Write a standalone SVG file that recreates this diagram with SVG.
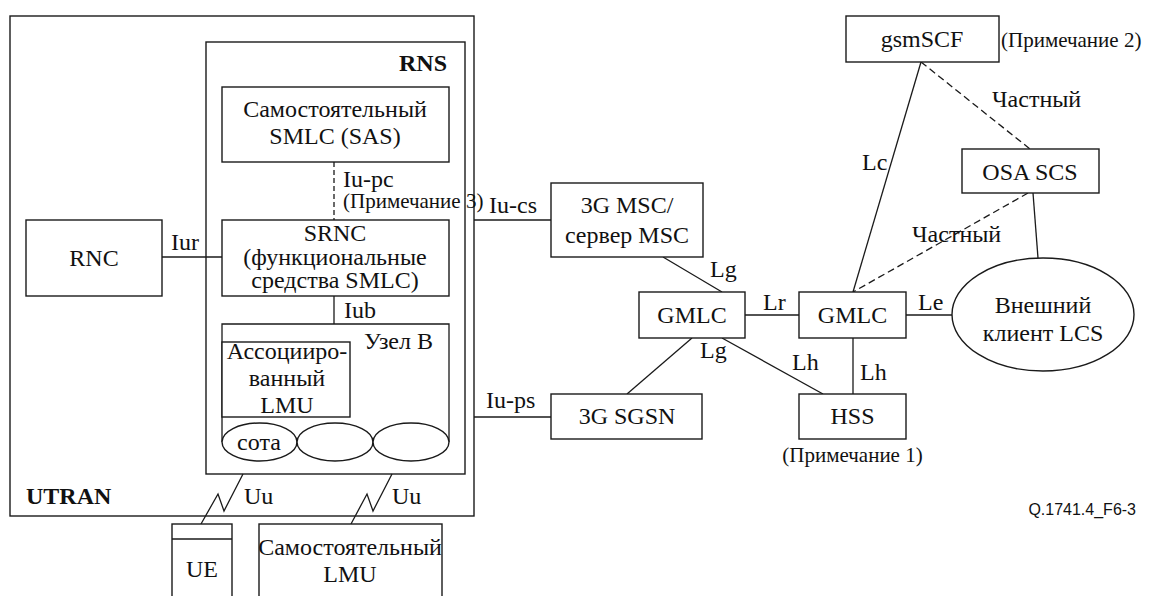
<svg xmlns="http://www.w3.org/2000/svg" width="1152" height="596" viewBox="0 0 1152 596">
  <style>
    .box { fill: #fff; stroke: #1a1a1a; stroke-width: 1.4; }
    .frame { fill: none; stroke: #1a1a1a; stroke-width: 1.4; }
    .ln { fill: none; stroke: #1a1a1a; stroke-width: 1.3; }
    .dash { fill: none; stroke: #1a1a1a; stroke-width: 1.3; stroke-dasharray: 7 4; }
    text { font-family: "Times New Roman", Times, "Liberation Serif", "DejaVu Serif", serif; font-size: 24px; fill: #111; }
    .c { text-anchor: middle; }
    .n { font-size: 21px; }
    .b { font-weight: bold; }
    text.id { font-family: "Liberation Sans", Arial, sans-serif; font-size: 16px; }
  </style>

  <rect width="1152" height="596" fill="#fff"/>

  <!-- UTRAN frame -->
  <g id="utran">
    <rect class="frame" x="10" y="16" width="464" height="500"/>
    <text class="b" x="26" y="504">UTRAN</text>
  </g>

  <!-- RNS frame -->
  <g id="rns">
    <rect class="frame" x="206" y="42" width="259" height="432"/>
    <text class="b" x="447" y="71" text-anchor="end">RNS</text>
  </g>

  <!-- connectors -->
  <g id="connectors">
    <line class="dash" x1="334" y1="162" x2="334" y2="220" style="stroke-dasharray:5 3"/>
    <line class="ln" x1="162" y1="257" x2="222" y2="257"/>
    <line class="ln" x1="334" y1="296" x2="334" y2="324"/>
    <line class="ln" x1="474" y1="220" x2="551" y2="220"/>
    <line class="ln" x1="474" y1="417" x2="551" y2="417"/>
    <line class="ln" x1="663" y1="257" x2="722" y2="292"/>
    <line class="ln" x1="745" y1="315" x2="799" y2="315"/>
    <line class="ln" x1="692" y1="338" x2="627" y2="394"/>
    <line class="ln" x1="722" y1="338" x2="823" y2="394"/>
    <line class="ln" x1="853" y1="338" x2="853" y2="394"/>
    <line class="ln" x1="921" y1="62" x2="853" y2="292"/>
    <line class="dash" x1="921" y1="62" x2="1030" y2="149"/>
    <line class="dash" x1="1028" y1="193" x2="853" y2="292"/>
    <line class="ln" x1="1033" y1="193" x2="1038" y2="258"/>
    <line class="ln" x1="906" y1="315" x2="952" y2="315"/>
    <!-- radio links -->
    <polyline class="ln" points="243,474 224,511 218,494 201,524"/>
    <polyline class="ln" points="392,474 373,511 367,494 351,524"/>

    <text x="343" y="187">Iu-pc</text>
    <text class="n" x="343" y="208">(Примечание 3)</text>
    <text x="171" y="250">Iur</text>
    <text x="344" y="318">Iub</text>
    <text x="489" y="213">Iu-cs</text>
    <text x="486" y="408">Iu-ps</text>
    <text x="710" y="277">Lg</text>
    <text x="700" y="358">Lg</text>
    <text x="763" y="310">Lr</text>
    <text x="792" y="370">Lh</text>
    <text x="860" y="380">Lh</text>
    <text x="862" y="170">Lc</text>
    <text x="918" y="310">Le</text>
    <text x="992" y="107">Частный</text>
    <text x="912" y="242">Частный</text>
    <text x="244" y="504">Uu</text>
    <text x="392" y="504">Uu</text>
  </g>

  <g id="sas">
    <rect class="box" x="222" y="87" width="227" height="75"/>
    <text class="c" x="335" y="117">Самостоятельный</text>
    <text class="c" x="335" y="144">SMLC (SAS)</text>
  </g>

  <g id="srnc">
    <rect class="box" x="222" y="220" width="227" height="76"/>
    <text class="c" x="335" y="241">SRNC</text>
    <text class="c" x="335" y="265">(функциональные</text>
    <text class="c" x="335" y="288">средства SMLC)</text>
  </g>

  <g id="rnc">
    <rect class="box" x="26" y="220" width="136" height="76"/>
    <text class="c" x="94" y="266">RNC</text>
  </g>

  <g id="node-b">
    <path class="ln" d="M222,442 V324 H449 V442"/>
    <text x="433" y="349" text-anchor="end">Узел B</text>
    <rect class="box" x="222" y="342" width="128" height="75"/>
    <text class="c" x="287" y="359">Ассоцииро-</text>
    <text class="c" x="287" y="386">ванный</text>
    <text class="c" x="287" y="413">LMU</text>
    <ellipse class="box" cx="259.5" cy="442" rx="37.5" ry="19"/>
    <ellipse class="box" cx="335" cy="442" rx="38" ry="19"/>
    <ellipse class="box" cx="411" cy="442" rx="38" ry="19"/>
    <text class="c" x="259" y="450">сота</text>
  </g>

  <g id="ue">
    <rect class="box" x="172" y="524" width="60" height="90"/>
    <line class="ln" x1="172" y1="539" x2="232" y2="539"/>
    <text class="c" x="202" y="577">UE</text>
  </g>

  <g id="standalone-lmu">
    <rect class="box" x="259" y="524" width="183" height="90"/>
    <text class="c" x="350" y="555">Самостоятельный</text>
    <text class="c" x="350" y="582">LMU</text>
  </g>

  <g id="msc">
    <rect class="box" x="551" y="183" width="152" height="74"/>
    <text class="c" x="627" y="213">3G MSC/</text>
    <text class="c" x="627" y="243">сервер MSC</text>
  </g>

  <g id="sgsn">
    <rect class="box" x="551" y="394" width="151" height="45"/>
    <text class="c" x="627" y="424">3G SGSN</text>
  </g>

  <g id="gmlc-1">
    <rect class="box" x="639" y="292" width="106" height="46"/>
    <text class="c" x="692" y="323">GMLC</text>
  </g>

  <g id="gmlc-2">
    <rect class="box" x="799" y="292" width="107" height="46"/>
    <text class="c" x="852.5" y="323">GMLC</text>
  </g>

  <g id="hss">
    <rect class="box" x="799" y="394" width="107" height="45"/>
    <text class="c" x="852.5" y="424">HSS</text>
    <text class="c n" x="852.5" y="462">(Примечание 1)</text>
  </g>

  <g id="gsmscf">
    <rect class="box" x="846" y="16" width="153" height="46"/>
    <text class="c" x="922" y="47">gsmSCF</text>
    <text class="n" x="1001" y="47">(Примечание 2)</text>
  </g>

  <g id="osa-scs">
    <rect class="box" x="962" y="149" width="137" height="44"/>
    <text class="c" x="1030" y="180">OSA SCS</text>
  </g>

  <g id="lcs-client">
    <ellipse class="box" cx="1043" cy="314.5" rx="91" ry="56.5"/>
    <text class="c" x="1043" y="313">Внешний</text>
    <text class="c" x="1043" y="341">клиент LCS</text>
  </g>

  <text class="id" x="1136" y="515" text-anchor="end">Q.1741.4_F6-3</text>
</svg>
